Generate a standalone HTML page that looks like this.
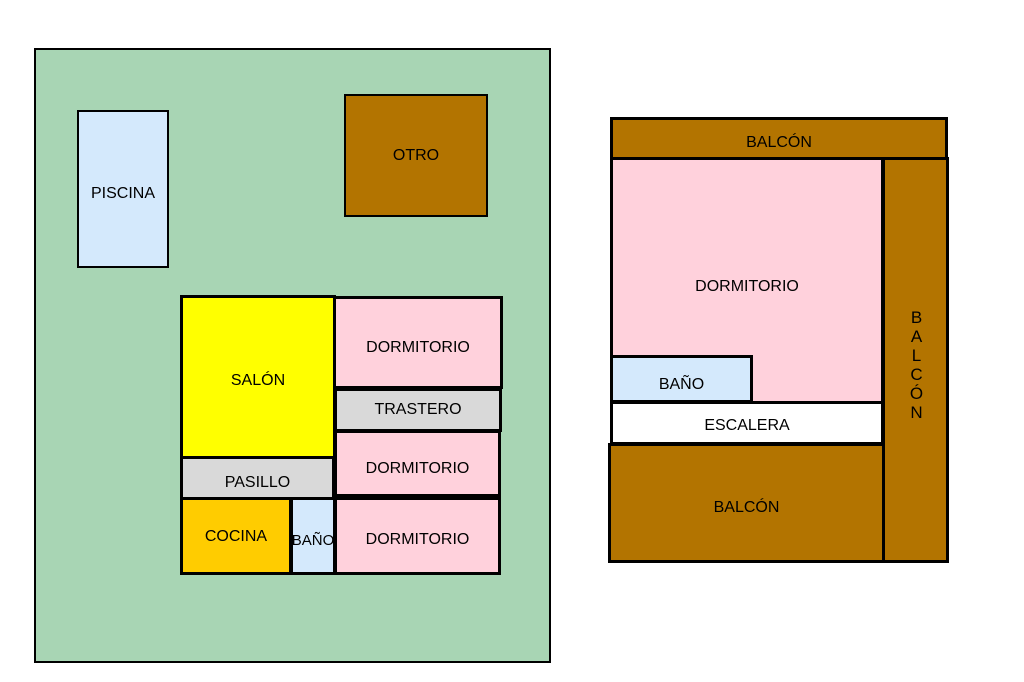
<!DOCTYPE html>
<html><head><style>
body{margin:0;width:1024px;height:682px;background:#fff;position:relative;overflow:hidden;font-family:"Liberation Sans",Arial,sans-serif;}
.r{position:absolute;box-sizing:border-box;border:3px solid #000;display:flex;align-items:center;justify-content:center;font-size:16px;color:#000;padding-top:8px;}
.g{background:#a8d5b4;border-width:2px}
.b{background:#b37400}
.p{background:#ffd1dc}
.l{background:#d4e9fc}
.gr{background:#d9d9d9}
</style></head><body>
<div class="r g" style="left:34px;top:48px;width:517px;height:615px"></div>
<div class="r l" style="left:77px;top:110px;width:92px;height:158px;border-width:2px;padding-top:10px">PISCINA</div>
<div class="r b" style="left:344px;top:94px;width:144px;height:123px;border-width:2px;padding-top:0">OTRO</div>
<div class="r" style="left:180px;top:295px;width:156px;height:164px;background:#ffff00;">SALÓN</div>
<div class="r p" style="left:333px;top:296px;width:170px;height:93px;padding-top:10px">DORMITORIO</div>
<div class="r gr" style="left:334px;top:388px;width:168px;height:44px;padding-top:0">TRASTERO</div>
<div class="r p" style="left:334px;top:430px;width:167px;height:67px;padding-top:10px">DORMITORIO</div>
<div class="r gr" style="left:180px;top:456px;width:155px;height:44px;padding-top:10px">PASILLO</div>
<div class="r" style="left:180px;top:497px;width:112px;height:78px;background:#ffcc00;padding-top:2px">COCINA</div>
<div class="r l" style="left:290px;top:497px;width:46px;height:78px;overflow:hidden;font-size:15px">BAÑO</div>
<div class="r p" style="left:334px;top:497px;width:167px;height:78px">DORMITORIO</div>

<div class="r b" style="left:610px;top:117px;width:338px;height:43px;padding-top:8px">BALCÓN</div>
<div class="r p" style="left:610px;top:157px;width:274px;height:248px;padding-top:12px">DORMITORIO</div>
<div class="r b" style="left:882px;top:157px;width:67px;height:406px;line-height:19px;font-size:17px;text-align:center;padding-left:2px;padding-top:10px"><div>B<br>A<br>L<br>C<br>Ó<br>N</div></div>
<div class="r l" style="left:610px;top:355px;width:143px;height:48px;padding-top:12px">BAÑO</div>
<div class="r" style="left:610px;top:401px;width:274px;height:44px;background:#fff;padding-top:6px">ESCALERA</div>
<div class="r b" style="left:608px;top:443px;width:277px;height:120px;padding-top:10px">BALCÓN</div>
</body></html>
